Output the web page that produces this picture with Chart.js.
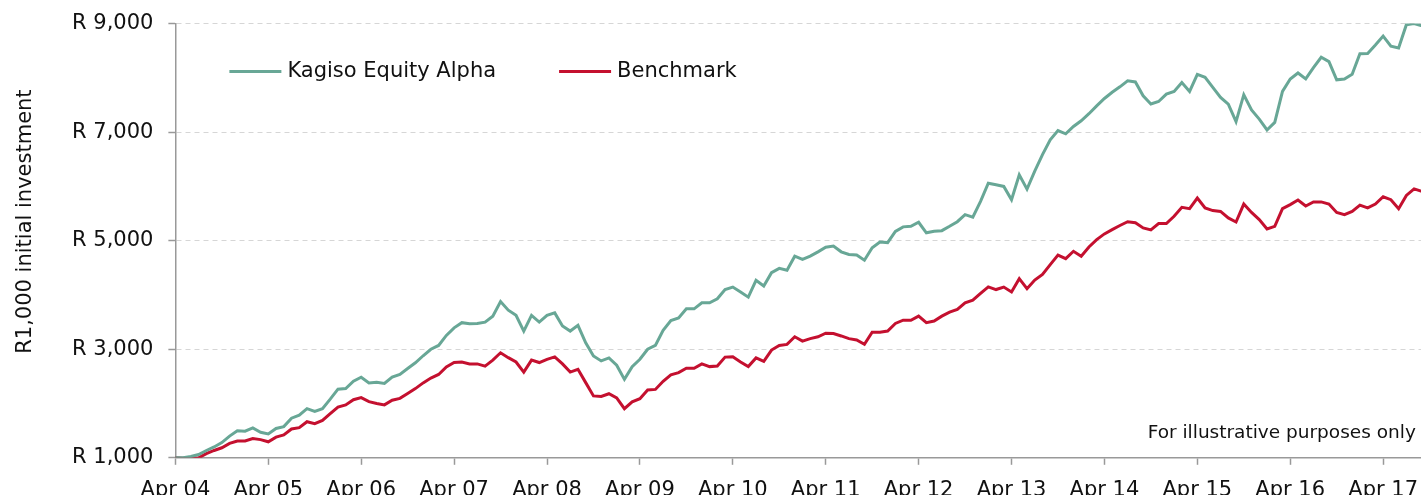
<!DOCTYPE html>
<html>
<head>
<meta charset="utf-8">
<script src="https://cdn.jsdelivr.net/npm/chart.js@4.4.1/dist/chart.umd.min.js"></script>
<style>
	html, body { margin: 0; padding: 0; background: #fff; overflow: hidden; }
	canvas { display: block; margin-top: -4px; }
</style>
</head>
<body>
<canvas id="growthChart" width="1431" height="520"></canvas>
<script>
// Growth of R1,000, monthly from Apr 2004
const fundName = 'Kagiso Equity Alpha';
const benchName = 'Benchmark';

const fundValues = [
	1000, 1000, 1025, 1060, 1135, 1200, 1280, 1400, 1500, 1490, 1550, 1470,
	1440, 1540, 1575, 1730, 1785, 1905, 1855, 1905, 2080, 2265, 2275, 2410,
	2485, 2380, 2390, 2370, 2485, 2535, 2645, 2750, 2880, 3000, 3070, 3255,
	3395, 3490, 3470, 3475, 3500, 3610, 3880, 3720, 3625, 3335, 3625, 3500,
	3625, 3670, 3430, 3335, 3440, 3120, 2875, 2785, 2840, 2705, 2445, 2680,
	2815, 3000, 3070, 3350, 3530, 3575, 3745, 3745, 3855, 3855, 3930, 4100,
	4145, 4055, 3960, 4270, 4165, 4410, 4490, 4455, 4715, 4655, 4715, 4795,
	4880, 4900, 4795, 4745, 4735, 4640, 4870, 4975, 4965, 5170, 5255, 5265,
	5340, 5145, 5175, 5185, 5265, 5350, 5480, 5435, 5725, 6060, 6030, 6000,
	5755, 6215, 5950, 6280, 6585, 6860, 7030, 6970, 7105, 7210, 7340, 7485,
	7620, 7735, 7835, 7945, 7925, 7670, 7520, 7565, 7700, 7750, 7915, 7750,
	8065, 8010, 7825, 7640, 7515, 7195, 7690, 7410, 7240, 7040, 7180, 7750,
	7980, 8090, 7980, 8190, 8380, 8300, 7965, 7980, 8065, 8445, 8450, 8605,
	8770, 8585, 8550, 8980, 9000, 8960
];

const benchValues = [
	1000, 990, 990, 1000, 1075, 1135, 1185, 1265, 1310, 1310, 1355, 1335,
	1295, 1380, 1420, 1530, 1555, 1665, 1630, 1690, 1815, 1935, 1975, 2070,
	2110, 2035, 2000, 1975, 2060, 2095, 2185, 2275, 2380, 2470, 2535, 2675,
	2755, 2765, 2730, 2730, 2690, 2800, 2935, 2845, 2765, 2580, 2800, 2755,
	2815, 2860, 2730, 2580, 2630, 2385, 2140, 2130, 2180, 2105, 1905, 2030,
	2090, 2250, 2260, 2410, 2530, 2570, 2650, 2650, 2730, 2680, 2690, 2855,
	2860, 2765, 2680, 2840, 2775, 2985, 3070, 3090, 3230, 3150, 3195, 3230,
	3295, 3290, 3245, 3195, 3170, 3090, 3315, 3315, 3335, 3475, 3535, 3535,
	3610, 3490, 3520, 3610, 3685, 3735, 3855, 3905, 4030, 4150, 4100, 4145,
	4055, 4300, 4115, 4275, 4380, 4560, 4735, 4670, 4805, 4715, 4885, 5020,
	5125, 5205, 5280, 5350, 5330, 5235, 5200, 5315, 5315, 5450, 5615, 5590,
	5785, 5605, 5555, 5540, 5420, 5345, 5675, 5520, 5390, 5215, 5265, 5590,
	5665, 5750, 5640, 5715, 5715, 5675, 5520, 5480, 5540, 5655, 5605, 5675,
	5810, 5755, 5590, 5835, 5955, 5910
];

const monthNames = ['Jan', 'Feb', 'Mar', 'Apr', 'May', 'Jun', 'Jul', 'Aug', 'Sep', 'Oct', 'Nov', 'Dec'];
const startYear = 2004;
const startMonth = 3; // April

// month labels, e.g. "Apr 04"
const monthLabels = fundValues.map((v, i) => {
	const m = (startMonth + i) % 12;
	const y = startYear + Math.floor((startMonth + i) / 12);
	return monthNames[m] + ' ' + String(y % 100).padStart(2, '0');
});

const yTicks = [1000, 3000, 5000, 7000, 9000];
const yTitle = 'R1,000 initial investment';
const footNote = 'For illustrative purposes only';

const fundColor = '#68a796';
const benchColor = '#c4102f';
const axisColor = '#999999';
const fontFamily = "'DejaVu Sans', Verdana, sans-serif";

Chart.defaults.font.family = fontFamily;
Chart.defaults.color = '#111';

// legend inside the plot, rotated y title and the note
const extrasPlugin = {
	id: 'extras',
	afterDraw(chart) {
		const ctx = chart.ctx;
		const area = chart.chartArea;

		// legend: one row near the top of the plot
		ctx.save();
		ctx.font = '21px ' + fontFamily;
		ctx.textBaseline = 'middle';
		ctx.textAlign = 'left';
		let x = area.left + 54;
		const y = area.top + 48;
		chart.data.datasets.forEach((ds) => {
			ctx.strokeStyle = ds.borderColor;
			ctx.lineWidth = 3;
			ctx.beginPath();
			ctx.moveTo(x, y);
			ctx.lineTo(x + 52, y);
			ctx.stroke();
			ctx.fillStyle = '#111';
			ctx.fillText(ds.label, x + 58, y);
			x += 58 + ctx.measureText(ds.label).width + 63;
		});
		ctx.restore();

		// y title, a bit above the middle of the axis
		ctx.save();
		ctx.fillStyle = '#111';
		ctx.font = '21px ' + fontFamily;
		ctx.textAlign = 'center';
		ctx.textBaseline = 'middle';
		ctx.translate(26, area.top + 198);
		ctx.rotate(-Math.PI / 2);
		ctx.fillText(yTitle, 0, 0);
		ctx.restore();

		ctx.save();
		ctx.fillStyle = '#111';
		ctx.font = '18.5px ' + fontFamily;
		ctx.textAlign = 'right';
		ctx.textBaseline = 'middle';
		ctx.fillText(footNote, area.right - 6, area.bottom - 25);
		ctx.restore();
	}
};

const ctx = document.getElementById('growthChart').getContext('2d');
const growthChart = new Chart(ctx, {
	type: 'line',
	data: {
		labels: monthLabels,
		datasets: [
			{
				label: fundName,
				data: fundValues,
				borderColor: fundColor,
				backgroundColor: fundColor,
				borderWidth: 3,
				pointRadius: 0,
				pointHoverRadius: 0,
				tension: 0
			},
			{
				label: benchName,
				data: benchValues,
				borderColor: benchColor,
				backgroundColor: benchColor,
				borderWidth: 3,
				pointRadius: 0,
				pointHoverRadius: 0,
				tension: 0
			}
		]
	},
	options: {
		responsive: false,
		animation: false,
		layout: {
			autoPadding: false,
			padding: { left: 57, top: 22, right: 0, bottom: 0 }
		},
		plugins: {
			tooltip: { enabled: false },
			legend: { display: false }
		},
		scales: {
			x: {
				type: 'category',
				offset: false,
				grid: {
					drawOnChartArea: false,
					drawTicks: true,
					tickLength: 7,
					tickColor: axisColor,
					tickWidth: 1.5
				},
				border: { color: axisColor, width: 1.5 },
				ticks: {
					autoSkip: false,
					maxRotation: 0,
					minRotation: 0,
					padding: 13,
					color: '#111',
					font: { size: 21 },
					callback: function (val, idx) {
						return idx % 12 === 0 ? this.getLabelForValue(val) : null;
					}
				}
			},
			y: {
				min: 1000,
				max: 9000,
				afterBuildTicks: (scale) => {
					scale.ticks = yTicks.map((v) => ({ value: v }));
				},
				grid: {
					color: '#d6d6d6',
					lineWidth: 1,
					tickLength: 7,
					tickColor: axisColor,
					tickWidth: 1.5
				},
				border: { color: axisColor, width: 1.5, dash: [5, 4] },
				ticks: {
					padding: 15,
					color: '#111',
					font: { size: 21 },
					callback: (v) => 'R ' + Number(v).toLocaleString('en-US')
				}
			}
		}
	},
	plugins: [extrasPlugin]
});
</script>
</body>
</html>
